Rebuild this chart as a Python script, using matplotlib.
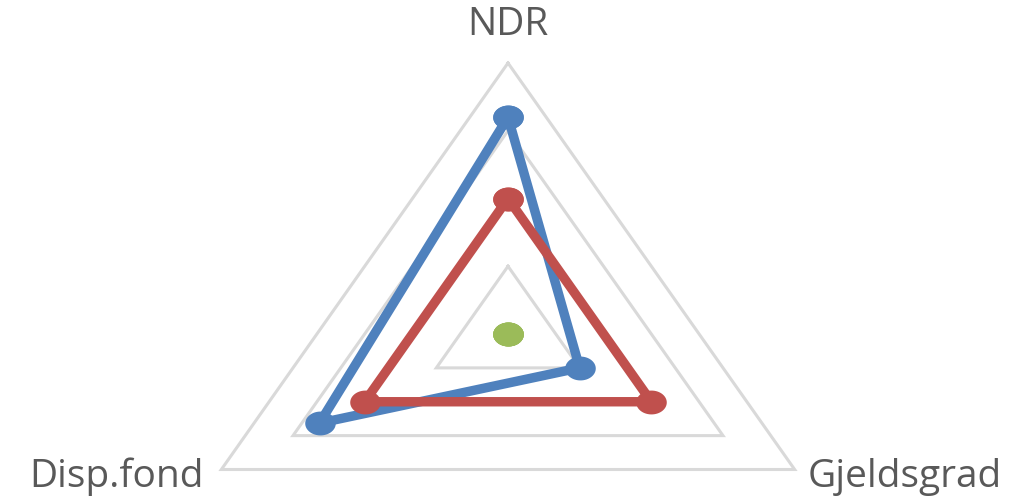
import numpy as np
import matplotlib
matplotlib.use("Agg")
import matplotlib.pyplot as plt
from matplotlib.path import Path

categories = ["NDR", "Gjeldsgrad", "Disp.fond"]
series_blue = [3.2, 1.0, 2.63]
series_red = [2.0, 2.0, 2.0]
series_green = [0.0, 0.0, 0.0]
grid_levels = [1, 2, 3, 4]
r_max = 4

colors = {"blue": "#4F81BD", "red": "#C0504D", "green": "#9BBB59"}

W, H, DPI = 1032, 499, 100
fig = plt.figure(figsize=(W / DPI, H / DPI), dpi=DPI)

# axes box (pixels): centre (508,334), horizontal radius 331, vertical radius 271
cx, cy, rx, ry = 508, 334, 331, 271
left = (cx - rx) / W
width = 2 * rx / W
bottom = (H - (cy + ry)) / H
height = 2 * ry / H
ax = fig.add_axes([left, bottom, width, height], projection="polar")
ax.set_aspect("auto")
ax.set_theta_offset(np.pi / 2)
ax.set_theta_direction(-1)
ax.set_ylim(0, r_max)
ax.axis("off")

n = len(categories)
theta = np.linspace(0, 2 * np.pi, n, endpoint=False)
theta_closed = np.append(theta, theta[0])

# elliptical marker (stretched like the reference)
t = np.linspace(0, 2 * np.pi, 60)
ell = Path(np.column_stack([1.28 * np.cos(t), np.sin(t)]), closed=True)

for lv in grid_levels:
    ax.plot(theta_closed, [lv] * (n + 1), color="#D9D9D9", lw=2.2, zorder=1,
            clip_on=False, solid_joinstyle="miter")

for vals, c in [(series_blue, colors["blue"]), (series_red, colors["red"]),
                (series_green, colors["green"])]:
    v = np.append(vals, vals[0])
    ax.plot(theta_closed, v, color=c, lw=6.8, zorder=3, clip_on=False,
            solid_joinstyle="miter", marker=ell, markersize=22,
            markeredgewidth=0, markerfacecolor=c)

font = "Open Sans"
fs = 28
tc = "#595959"
ax.annotate(categories[0], xy=(theta[0], r_max), xytext=(0, 20),
            textcoords="offset points", ha="center", va="baseline",
            fontsize=fs, color=tc, family=font, annotation_clip=False)
ax.annotate(categories[1], xy=(theta[1], r_max), xytext=(9, -12.5),
            textcoords="offset points", ha="left", va="baseline",
            fontsize=fs, color=tc, family=font, annotation_clip=False)
ax.annotate(categories[2], xy=(theta[2], r_max), xytext=(-13, -12.5),
            textcoords="offset points", ha="right", va="baseline",
            fontsize=fs, color=tc, family=font, annotation_clip=False)

fig.savefig("out.png", dpi=DPI)
